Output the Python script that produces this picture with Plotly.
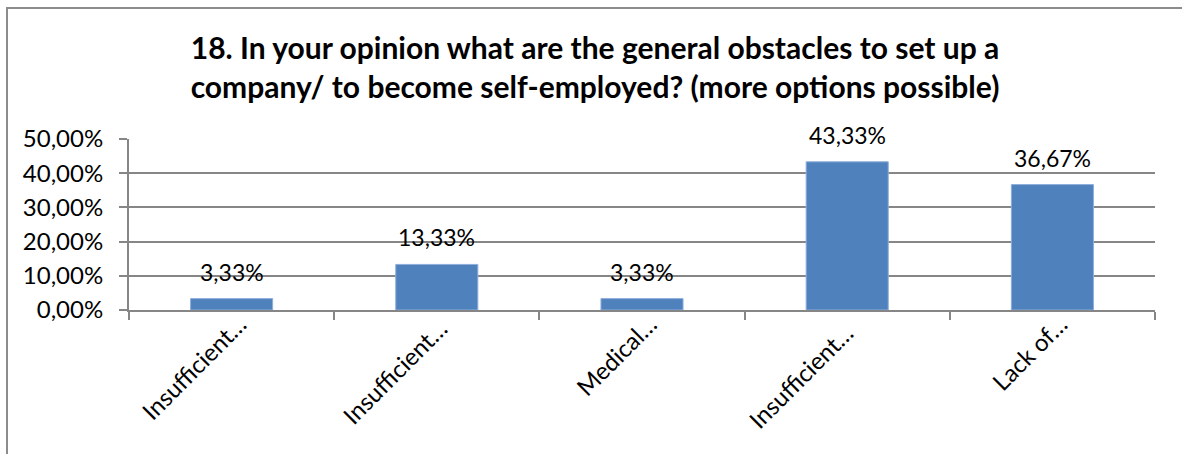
import plotly.graph_objects as go

# Survey question 18: perceived obstacles to starting a business
categories = ["Insufficient…", "Insufficient… ", "Medical…", "Insufficient…  ", "Lack of…"]
shares = [0.0333, 0.1333, 0.0333, 0.4333, 0.3667]
y_ticks = [0.0, 0.1, 0.2, 0.3, 0.4, 0.5]

title_text = ("18. In your opinion what are the general obstacles to set up a<br>"
              "company/ to become self-employed? (more options possible)")

FONT = "Lato"
GRID = "#868686"
BAR = "#4F81BD"

W, H = 1182, 454
L, R, T, B = 129, 27, 138.5, 144
pw, ph = W - L - R, H - T - B

fig = go.Figure()
fig.add_trace(go.Bar(
    x=categories,
    y=shares,
    marker=dict(color=BAR, line=dict(color="#8eaedb", width=1)),
    width=0.4,
    hoverinfo="skip",
))

# value labels above each bar
for c, v in zip(categories, shares):
    fig.add_annotation(
        x=c, y=v, xref="x", yref="y",
        text=f"{v*100:.2f}%".replace(".", ","),
        showarrow=False, yanchor="middle", yshift=27,
        font=dict(family=FONT, size=23, color="#000000"),
    )

# chart frame (top and left edges visible)
def px_x(p):
    return (p - L) / pw

def px_y(p):
    return (H - B - p) / ph

fig.add_shape(type="rect", xref="paper", yref="paper",
              x0=px_x(7), x1=px_x(1200), y0=px_y(470), y1=px_y(7),
              line=dict(color="#8c8c8c", width=2), fillcolor="rgba(0,0,0,0)",
              layer="below")

fig.update_layout(
    width=W, height=H,
    margin=dict(l=L, r=R, t=T, b=B, pad=0),
    paper_bgcolor="white", plot_bgcolor="white",
    separators=",.",
    showlegend=False,
    font=dict(family=FONT, size=24, color="#000000"),
    title=dict(
        text=f"<b>{title_text}</b>",
        xref="container", yref="container",
        x=595 / W, y=1 - 59 / H,
        xanchor="center", yanchor="middle",
        font=dict(family=FONT, size=30, color="#000000"),
    ),
    bargap=0.6,
)

fig.update_xaxes(
    type="category",
    showline=True, linecolor=GRID, linewidth=2,
    ticks="outside", tickson="boundaries", ticklen=8, tickwidth=2, tickcolor=GRID,
    tickangle=-45,
    ticklabelshift=8, ticklabelstandoff=-11,
    showgrid=False,
    tickfont=dict(family=FONT, size=24),
)
fig.update_yaxes(
    range=[0, 0.5],
    tickvals=y_ticks, tickformat=".2%",
    showline=True, linecolor=GRID, linewidth=2,
    ticks="outside", ticklen=8, tickwidth=2, tickcolor=GRID,
    ticklabelstandoff=11,
    showgrid=True, gridcolor=GRID, gridwidth=2,
    zeroline=False,
    tickfont=dict(family=FONT, size=24),
)

fig.write_html("out.html")
